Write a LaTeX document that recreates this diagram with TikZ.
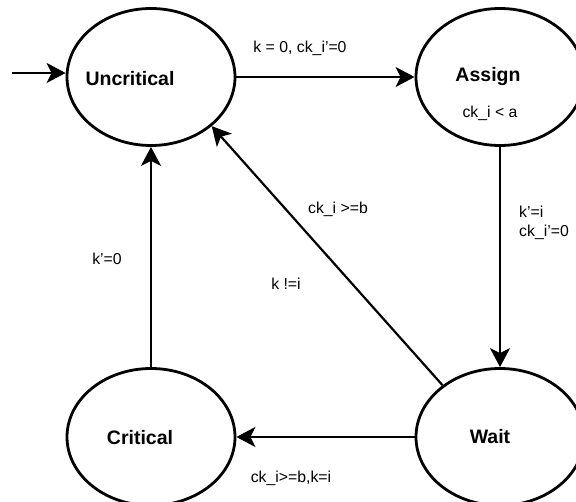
\documentclass[tikz,border=0pt]{standalone}
\usepackage{fontspec}
\setmainfont{Liberation Sans}
\usetikzlibrary{shapes.geometric,arrows.meta}
\begin{document}
\begin{tikzpicture}[x=1pt,y=-1pt,
  state/.style={draw,ellipse,line width=2.8pt,minimum width=168pt,minimum height=137pt,inner sep=0pt},
  stname/.style={font=\fontsize{19.5}{22}\selectfont\bfseries,inner sep=0pt},
  lbl/.style={font=\fontsize{15.8}{19}\selectfont,inner sep=0pt},
  edge/.style={line width=2.5pt,-{Stealth[length=19pt,width=20pt,inset=5pt]}}
]
\useasboundingbox (0,0) rectangle (576,502);
\node[state] (U) at (151,77) {};
\node[state] (A) at (500,77) {};
\node[state] (W) at (500,437) {};
\node[state] (C) at (151,437) {};
\node[stname] (Ut) at (130,79) {Uncritical};
\node[stname] (At) at (488,77) {Assign};
\node[stname] (Wt) at (490,437) {Wait};
\node[stname] (Ct) at (140,438) {Critical};
\node[lbl] (Ainv) at (490,113) {ck\_i < a};
\coordinate (start) at (12,73);
\draw[edge] (start) -- (start -| U.west);
\draw[edge] (U.east) -- (A.west);
\draw[edge] (A.south) -- (W.north);
\draw[edge] (W.west) -- (C.east);
\draw[edge] (C.north) -- (U.south);
\draw[edge,line width=2.2pt] (W.138) -- (U.-39);
\node[lbl] (l1) at (300,48) {k = 0, ck\_i’=0};
\node[lbl,anchor=west] (l2) at (519,212) {k’=i};
\node[lbl,anchor=west] (l3) at (519,232) {ck\_i’=0};
\node[lbl] (l4) at (338,209) {ck\_i >=b};
\node[lbl] (l5) at (286,284) {k !=i};
\node[lbl] (l6) at (107,259) {k’=0};
\node[lbl] (l7) at (291,478) {ck\_i>=b,k=i};
\end{tikzpicture}
\end{document}
